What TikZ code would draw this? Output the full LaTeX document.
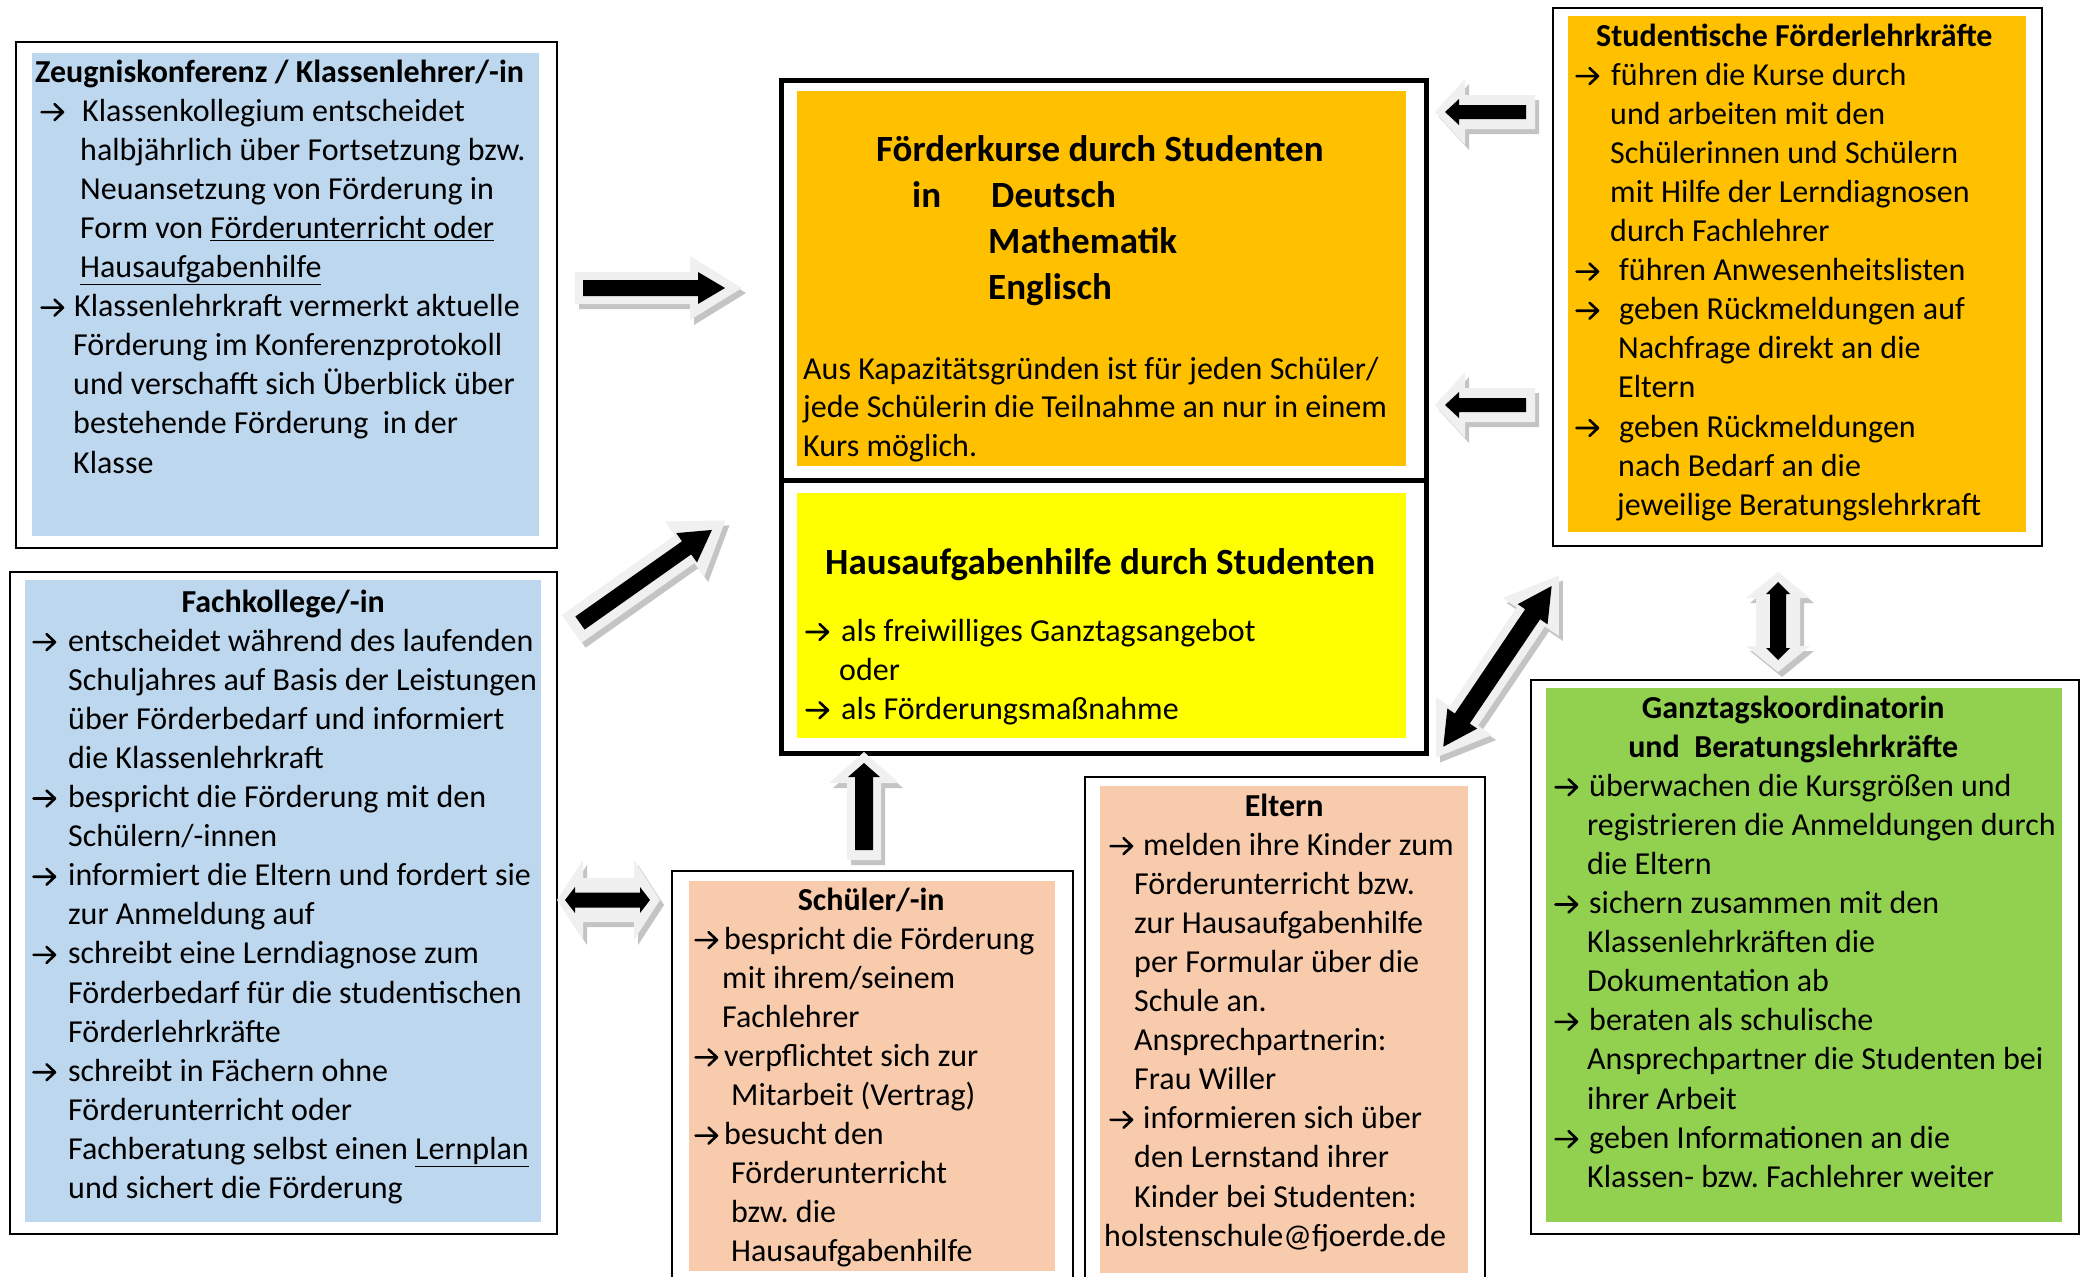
\documentclass[tikz,border=0pt]{standalone}
\usepackage{fontspec}
\setmainfont{Carlito}
\definecolor{boxblue}{HTML}{BDD7EE}
\definecolor{boxgold}{HTML}{FFC000}
\definecolor{boxyellow}{HTML}{FFFF00}
\definecolor{boxsalmon}{HTML}{F8CBAD}
\definecolor{boxgreen}{HTML}{92D050}
\definecolor{arrlight}{HTML}{F0F0F0}
\definecolor{arrshadow}{HTML}{C4C4C4}
\newcommand{\myarr}{\tikz[x=1pt, y=1pt, baseline=0pt, line width=2.6pt, line cap=round, line join=round]
  \draw (1.5,9) -- (23,9) (14.5,1) -- (23,9) -- (14.5,17);}
\newcommand{\fsn}{\fontsize{32pt}{39.1pt}\selectfont}
\newcommand{\fsbig}{\fontsize{37pt}{46pt}\selectfont\bfseries}
\newcommand{\sarrowpath}[4]{(0,-#2) -- ({#1-#4},-#2) -- ({#1-#4},-#3) -- (#1,0) -- ({#1-#4},#3) -- ({#1-#4},#2) -- (0,#2) -- cycle}
\newcommand{\darrowpath}[4]{(0,0) -- (#4,-#3) -- (#4,-#2) -- ({#1-#4},-#2) -- ({#1-#4},-#3) -- (#1,0) -- ({#1-#4},#3) -- ({#1-#4},#2) -- (#4,#2) -- (#4,#3) -- cycle}
\newcommand{\drawblock}[6]{%
  \fill[arrshadow, shift={(#1)}, xshift=4, yshift=-5, rotate=#2] #3#4;
  \fill[arrlight, shift={(#1)}, rotate=#2] #3#4;
  \fill[black, shift={(#1)}, rotate=#2, xshift=#5] #3#6;
}
\begin{document}
\frenchspacing
\begin{tikzpicture}[x=1pt, y=-1pt,
  frame/.style={draw=black, line width=2.2pt, inner sep=0, anchor=north west, fill=white},
  bigframe/.style={draw=black, line width=5pt, inner sep=0, anchor=north west, fill=white},
  panel/.style={inner sep=0, anchor=north west, draw=none},
  txt/.style={inner sep=0, anchor=base west}]
\useasboundingbox (0,0) rectangle (2083,1277);
\clip (0,0) rectangle (2083,1277);
\fill[white] (0,0) rectangle (2083,1277);

% ---------- Zeugniskonferenz
\node[frame, minimum width=541pt, minimum height=506pt] (zkframe) at (15,41) {};
\node[panel, fill=boxblue, minimum width=507pt, minimum height=483pt] (zkpanel) at (32,53) {};
\node[txt] (zktext) at (35,82) {\parbox[t]{520pt}{\fsn
\textbf{Zeugniskonferenz / Klassenlehrer/-in}\\
\hspace*{5pt}\makebox[42pt][l]{\myarr}Klassenkollegium entscheidet\\
\hspace*{45pt}halbjährlich über Fortsetzung bzw.\\
\hspace*{45pt}Neuansetzung von Förderung in\\
\hspace*{45pt}Form von \underline{Förderunterricht oder}\\
\hspace*{45pt}\underline{Hausaufgabenhilfe}\\
\hspace*{5pt}\makebox[34pt][l]{\myarr}Klassenlehrkraft vermerkt aktuelle\\
\hspace*{38pt}Förderung im Konferenzprotokoll\\
\hspace*{38pt}und verschafft sich Überblick über\\
\hspace*{38pt}bestehende Förderung\ \ in der\\
\hspace*{38pt}Klasse}};

% ---------- Fachkollege
\node[frame, minimum width=547pt, minimum height=662pt] (fkframe) at (9,571) {};
\node[panel, fill=boxblue, minimum width=516pt, minimum height=642pt] (fkpanel) at (25,580) {};
\node[txt] (fktext) at (32,612) {\parbox[t]{520pt}{\fsn
\makebox[502pt][c]{\textbf{Fachkollege/-in}}\\
\makebox[36pt][l]{\myarr}entscheidet während des laufenden\\
\hspace*{36pt}Schuljahres auf Basis der Leistungen\\
\hspace*{36pt}über Förderbedarf und informiert\\
\hspace*{36pt}die Klassenlehrkraft\\
\makebox[36pt][l]{\myarr}bespricht die Förderung mit den\\
\hspace*{36pt}Schülern/-innen\\
\makebox[36pt][l]{\myarr}informiert die Eltern und fordert sie\\
\hspace*{36pt}zur Anmeldung auf\\
\makebox[36pt][l]{\myarr}schreibt eine Lerndiagnose zum\\
\hspace*{36pt}Förderbedarf für die studentischen\\
\hspace*{36pt}Förderlehrkräfte\\
\makebox[36pt][l]{\myarr}schreibt in Fächern ohne\\
\hspace*{36pt}Förderunterricht oder\\
\hspace*{36pt}Fachberatung selbst einen \underline{Lernplan}\\
\hspace*{36pt}und sichert die Förderung}};

% ---------- Central box
\node[bigframe, minimum width=645pt, minimum height=400pt] (kursframe) at (779,78) {};
\node[bigframe, minimum width=645pt, minimum height=273pt] (hausframe) at (779,478) {};
\node[panel, fill=boxgold, minimum width=609pt, minimum height=375pt] (kurspanel) at (797,91) {};
\node[panel, fill=boxyellow, minimum width=609pt, minimum height=245pt] (hauspanel) at (797,493) {};
\node[txt] (kurstitle) at (876,161) {\parbox[t]{520pt}{\fsbig
Förderkurse durch Studenten\\
\hspace*{36pt}\makebox[79pt][l]{in}Deutsch\\
\hspace*{112pt}Mathematik\\
\hspace*{112pt}Englisch}};
\node[txt] (kurstext) at (803,379) {\parbox[t]{600pt}{\fontsize{32pt}{38.5pt}\selectfont
Aus Kapazitätsgründen ist für jeden Schüler/\\
jede Schülerin die Teilnahme an nur in einem\\
Kurs möglich.}};
\node[txt] (haustitle) at (825,574) {\fsbig Hausaufgabenhilfe durch Studenten};
\node[txt] (haustext) at (805,641) {\parbox[t]{600pt}{\fsn
\makebox[36pt][l]{\myarr}als freiwilliges Ganztagsangebot\\
\hspace*{34pt}oder\\
\makebox[36pt][l]{\myarr}als Förderungsmaßnahme}};

% ---------- Studentische Förderlehrkräfte
\node[frame, minimum width=489pt, minimum height=538pt] (stframe) at (1552,7) {};
\node[panel, fill=boxgold, minimum width=458pt, minimum height=516pt] (stpanel) at (1568,16) {};
\node[txt] (sttext) at (1575,46) {\parbox[t]{470pt}{\fsn
\hspace*{21pt}\textbf{Studentische Förderlehrkräfte}\\
\makebox[36pt][l]{\myarr}führen die Kurse durch\\
\hspace*{35pt}und arbeiten mit den\\
\hspace*{35pt}Schülerinnen und Schülern\\
\hspace*{35pt}mit Hilfe der Lerndiagnosen\\
\hspace*{35pt}durch Fachlehrer\\
\makebox[44pt][l]{\myarr}führen Anwesenheitslisten\\
\makebox[44pt][l]{\myarr}geben Rückmeldungen auf\\
\hspace*{43pt}Nachfrage direkt an die\\
\hspace*{43pt}Eltern\\
\makebox[44pt][l]{\myarr}geben Rückmeldungen\\
\hspace*{43pt}nach Bedarf an die\\
\hspace*{42pt}jeweilige Beratungslehrkraft}};

% ---------- Ganztagskoordinatorin
\node[frame, minimum width=548pt, minimum height=554pt] (gtframe) at (1530,679) {};
\node[panel, fill=boxgreen, minimum width=516pt, minimum height=534pt] (gtpanel) at (1546,688) {};
\node[txt] (gttext) at (1554,718) {\parbox[t]{520pt}{\fsn
\makebox[478pt][c]{\textbf{Ganztagskoordinatorin}}\\
\makebox[478pt][c]{\textbf{und\ \ Beratungslehrkräfte}}\\
\makebox[35pt][l]{\myarr}überwachen die Kursgrößen und\\
\hspace*{33pt}registrieren die Anmeldungen durch\\
\hspace*{33pt}die Eltern\\
\makebox[35pt][l]{\myarr}sichern zusammen mit den\\
\hspace*{33pt}Klassenlehrkräften die\\
\hspace*{33pt}Dokumentation ab\\
\makebox[35pt][l]{\myarr}beraten als schulische\\
\hspace*{33pt}Ansprechpartner die Studenten bei\\
\hspace*{33pt}ihrer Arbeit\\
\makebox[35pt][l]{\myarr}geben Informationen an die\\
\hspace*{33pt}Klassen- bzw. Fachlehrer weiter}};

% ---------- Eltern
\node[frame, minimum width=400pt, minimum height=530pt] (elframe) at (1084,776) {};
\node[panel, fill=boxsalmon, minimum width=368pt, minimum height=487pt] (elpanel) at (1100,786) {};
\node[txt] (eltext) at (1104,816) {\parbox[t]{380pt}{\fsn
\makebox[360pt][c]{\textbf{Eltern}}\\
\hspace*{5pt}\makebox[34pt][l]{\myarr}melden ihre Kinder zum\\
\hspace*{30pt}Förderunterricht bzw.\\
\hspace*{30pt}zur Hausaufgabenhilfe\\
\hspace*{30pt}per Formular über die\\
\hspace*{30pt}Schule an.\\
\hspace*{30pt}Ansprechpartnerin:\\
\hspace*{30pt}Frau Willer\\
\hspace*{5pt}\makebox[34pt][l]{\myarr}informieren sich über\\
\hspace*{30pt}den Lernstand ihrer\\
\hspace*{30pt}Kinder bei Studenten:\\
holstenschule@fjoerde.de}};

% ---------- Schüler
\node[frame, minimum width=401pt, minimum height=430pt] (scframe) at (671,870) {};
\node[panel, fill=boxsalmon, minimum width=366pt, minimum height=390pt] (scpanel) at (689,881) {};
\node[txt] (sctext) at (694,910) {\parbox[t]{370pt}{\fsn
\makebox[354pt][c]{\textbf{Schüler/-in}}\\
\makebox[30pt][l]{\myarr}bespricht die Förderung\\
\hspace*{28pt}mit ihrem/seinem\\
\hspace*{28pt}Fachlehrer\\
\makebox[30pt][l]{\myarr}verpflichtet sich zur\\
\hspace*{37pt}Mitarbeit (Vertrag)\\
\makebox[30pt][l]{\myarr}besucht den\\
\hspace*{37pt}Förderunterricht\\
\hspace*{37pt}bzw. die\\
\hspace*{37pt}Hausaufgabenhilfe}};

% ---------- Block arrows
\coordinate (a1) at (575,288);
\coordinate (a2) at (1535,112);
\coordinate (a3) at (1535,405);
\coordinate (a4) at (571.8,628.8);
\coordinate (a5) at (1436,757.5);
\coordinate (a6) at (1778,672);
\coordinate (a7) at (557,900);
\coordinate (a8) at (864,860);
\drawblock{a1}{0}{\sarrowpath}{{167}{16}{32}{52}}{8}{{142}{8}{16}{27}}
\drawblock{a2}{180}{\sarrowpath}{{100}{17}{33}{30}}{9}{{81}{7}{13}{14}}
\drawblock{a3}{180}{\sarrowpath}{{100}{17}{33}{30}}{9}{{81}{7}{13}{14}}
\drawblock{a4}{35.2}{\sarrowpath}{{188}{17}{34}{50}}{10}{{161.5}{8}{18}{31}}
\drawblock{a5}{56}{\darrowpath}{{219.5}{17}{34}{50}}{13}{{193.8}{9}{18}{34}}
\drawblock{a6}{90}{\darrowpath}{{100}{22}{32}{26}}{12}{{78}{8}{12}{12}}
\drawblock{a7}{0}{\darrowpath}{{103}{22}{40}{26}}{8}{{85}{7.5}{13}{10}}
\drawblock{a8}{90}{\sarrowpath}{{108}{17}{35}{31}}{10}{{87}{9}{16}{14}}
\end{tikzpicture}
\end{document}
